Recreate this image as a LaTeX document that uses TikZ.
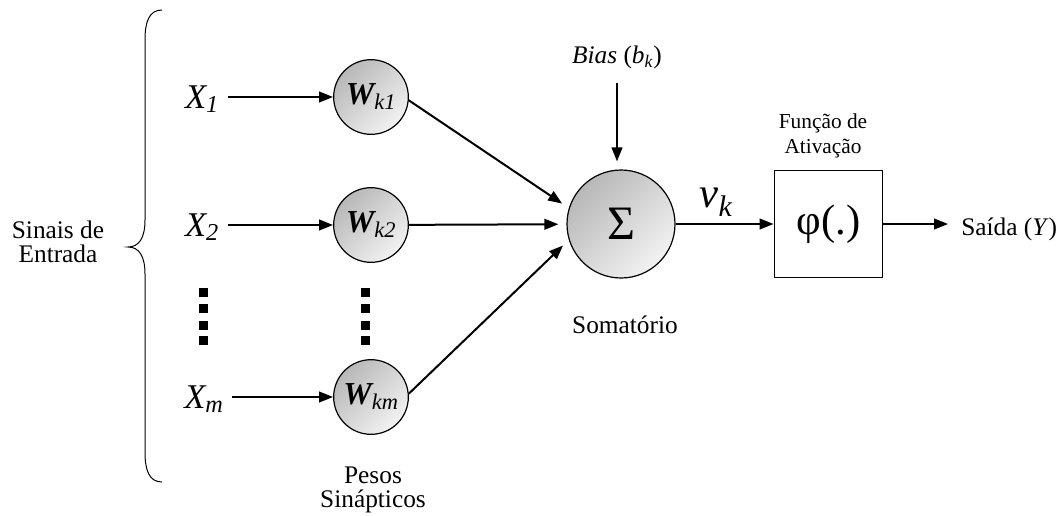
\documentclass[tikz,border=0pt]{standalone}
\usepackage{fontspec}
\setmainfont{Liberation Serif}
\usetikzlibrary{arrows.meta,calc,positioning,shadings}
\tikzset{
  signal/.style={black, -{Triangle[length=10.5pt,width=8pt]}, line width=1.5pt},
  weight/.style={circle, draw=black, line width=0.9pt, minimum size=56pt, inner sep=0pt, top color=black!28, bottom color=black!5, shading angle=45, font=\fontsize{24}{28}\selectfont\bfseries\itshape},
  summer/.style={circle, draw=black, line width=0.9pt, minimum size=81pt, inner sep=0pt, top color=black!28, bottom color=black!5, shading angle=45, font=\fontsize{36}{40}\selectfont},
  actbox/.style={draw=black, line width=0.9pt, minimum width=81.5pt, minimum height=80.5pt, inner sep=0pt, font=\fontsize{32}{36}\selectfont},
  caption/.style={align=center, font=\fontsize{19}{18}\selectfont},
  smallcaption/.style={align=center, font=\fontsize{16}{19}\selectfont},
  inputlabel/.style={font=\fontsize{26}{30}\selectfont\itshape},
  dotbox/.style={fill=black},
  bracestyle/.style={black, line width=0.75pt}
}
\begin{document}
\begin{tikzpicture}[x=0.75pt, y=-0.75pt]
  \useasboundingbox (0,0) rectangle (1060,515);
  % input brace
  \draw[bracestyle] (162,10) .. controls (149,10) and (145,22) .. (145,40) -- (145,220)
    .. controls (145,238) and (139,247) .. (128,247) .. controls (139,247) and (145,256) .. (145,274)
    -- (145,452) .. controls (145,470) and (149,482) .. (162,482);
  \node[caption] (entrada) at (58,242) {Sinais de\\Entrada};
  % inputs and weights
  \node[inputlabel, anchor=base] (x1) at (202,108) {X\textsubscript{1}};
  \node[inputlabel, anchor=base] (x2) at (202,236) {X\textsubscript{2}};
  \node[inputlabel, anchor=base] (xm) at (204,408) {X\textsubscript{m}};
  \node[weight] (w1) at (371,97) {W\textsubscript{\mdseries k1}};
  \node[weight] (w2) at (371,225) {W\textsubscript{\mdseries k2}};
  \node[weight] (wm) at (371,397) {W\textsubscript{\mdseries km}};
  \foreach \px in {203,365}
    \foreach \py in {292,308,325,340}
      \fill[dotbox] (\px-4.5,\py-4.5) rectangle (\px+4.5,\py+4.5);
  \node[caption] (pesos) at (373,490) {Pesos\\Sinápticos};
  \draw[signal, shorten <=3pt] (x1.east |- w1) -- (w1);
  \draw[signal, shorten <=3pt] (x2.east |- w2) -- (w2);
  \draw[signal, shorten <=3pt] (xm.east |- wm) -- (wm);
  % summing junction
  \node[summer] (sum) at (621,224) {Σ};
  \node[caption, anchor=base] (somat) at (625,333) {Somatório};
  \node[caption, anchor=base] (bias) at (617,63) {\textit{Bias} (\textit{b}\textsubscript{\textit{k}})};
  \draw[signal, shorten >=6pt] (w1.-5) -- (sum.163);
  \draw[signal, shorten >=6pt] (w2) -- (sum);
  \draw[signal, shorten >=6pt] (wm.5) -- (sum.197);
  \draw[signal, shorten <=7.5pt, shorten >=6pt] (bias.south) -- (bias.south |- sum.north);
  % activation
  \node[actbox] (act) at (828.5,224) {φ(.)};
  \node[smallcaption] (funcao) at (823,136) {Função de\\Ativação};
  \node[font=\fontsize{32}{34}\selectfont\itshape, anchor=base] (vk) at (716,207) {v\textsubscript{k}};
  \draw[signal] (sum) -- (act);
  \node[caption, anchor=base west, inner sep=0pt] (saida) at (961,235) {Saída (\textit{Y})};
  \coordinate (outtip) at (948,224);
  \draw[signal] (act) -- (outtip);
\end{tikzpicture}
\end{document}
